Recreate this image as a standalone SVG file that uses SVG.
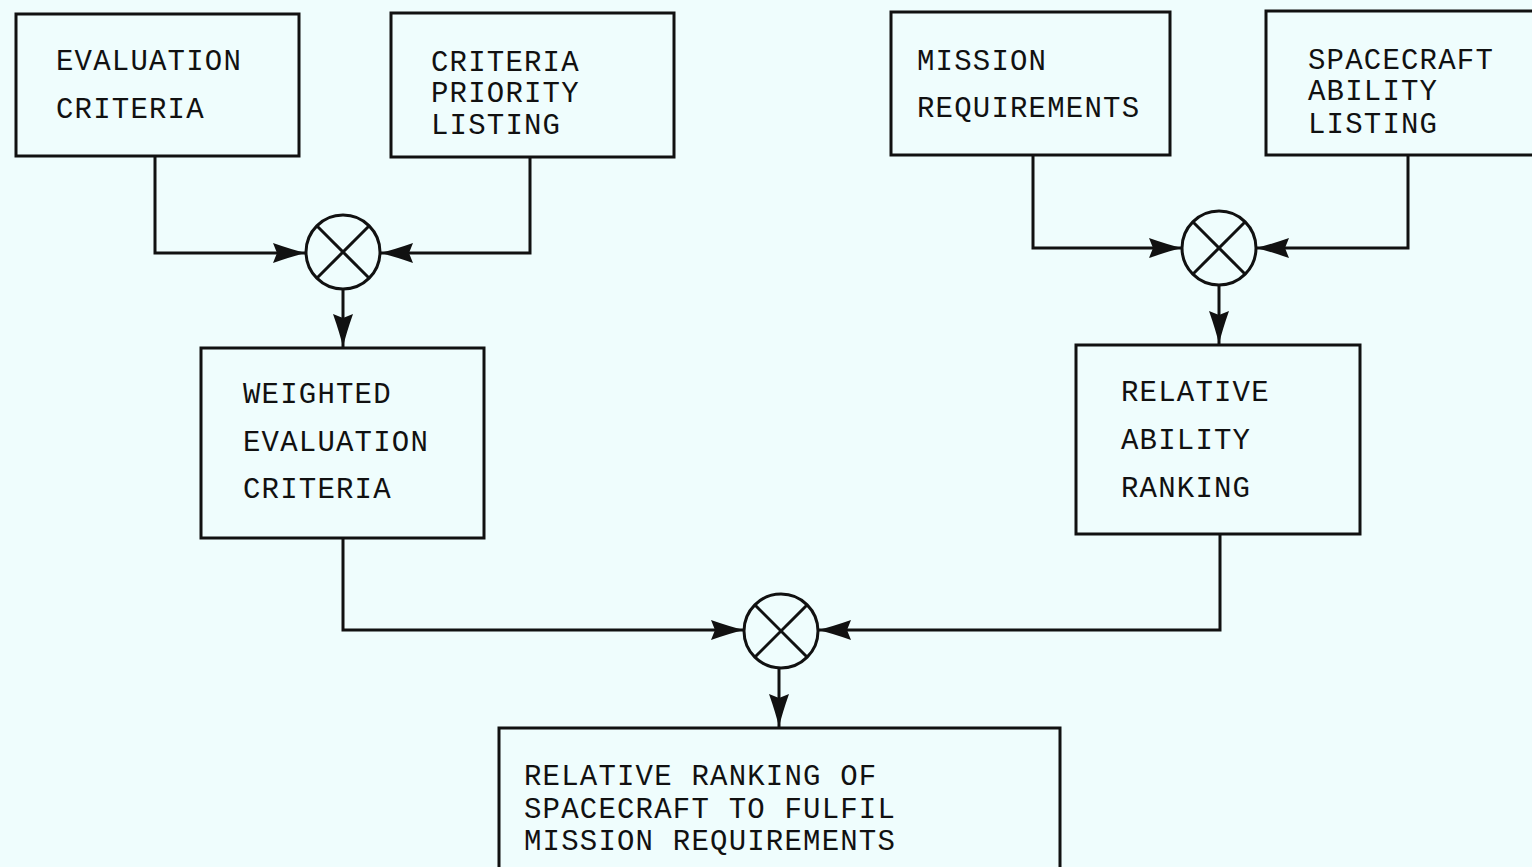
<svg xmlns="http://www.w3.org/2000/svg" width="1532" height="867" viewBox="0 0 1532 867">
<style>
.bg{fill:#effdfd}
.box{fill:none;stroke:#111;stroke-width:3}
.sum{fill:none;stroke:#111;stroke-width:3}
.x{stroke:#111;stroke-width:3}
.conn{fill:none;stroke:#111;stroke-width:3}
text{font-family:"Liberation Mono","DejaVu Sans Mono",monospace;font-size:29px;fill:#111;letter-spacing:1.2px}
</style>
<defs>
<marker id="arr" markerUnits="userSpaceOnUse" markerWidth="34" markerHeight="22" viewBox="0 0 34 22" refX="33" refY="11" orient="auto">
<path d="M0,1 Q20,8 33,11 Q20,14 0,21 L4,11 Z" fill="#111"/>
</marker>
</defs>
<rect class="bg" width="1532" height="867"/>
<g id="evaluation-criteria">
<rect class="box" x="16" y="14" width="283" height="142"/>
<text x="56" y="70">EVALUATION</text>
<text x="56" y="118">CRITERIA</text>
</g>
<g id="criteria-priority">
<rect class="box" x="391" y="13" width="283" height="144"/>
<text x="431" y="71">CRITERIA</text>
<text x="431" y="102">PRIORITY</text>
<text x="431" y="134">LISTING</text>
</g>
<g id="mission-requirements">
<rect class="box" x="891" y="12" width="279" height="143"/>
<text x="917" y="70">MISSION</text>
<text x="917" y="117">REQUIREMENTS</text>
</g>
<g id="spacecraft-ability">
<rect class="box" x="1266" y="11" width="270" height="144"/>
<text x="1308" y="69">SPACECRAFT</text>
<text x="1308" y="100">ABILITY</text>
<text x="1308" y="133">LISTING</text>
</g>
<g id="mult1">
<circle class="sum" cx="343" cy="252" r="37"/>
<line class="x" x1="317" y1="226" x2="369" y2="278"/>
<line class="x" x1="369" y1="226" x2="317" y2="278"/>
</g>
<g id="mult2">
<circle class="sum" cx="1219" cy="248" r="37"/>
<line class="x" x1="1193" y1="222" x2="1245" y2="274"/>
<line class="x" x1="1245" y1="222" x2="1193" y2="274"/>
</g>
<g id="weighted-criteria">
<rect class="box" x="201" y="348" width="283" height="190"/>
<text x="243" y="403">WEIGHTED</text>
<text x="243" y="451">EVALUATION</text>
<text x="243" y="498">CRITERIA</text>
</g>
<g id="relative-ability">
<rect class="box" x="1076" y="345" width="284" height="189"/>
<text x="1121" y="401">RELATIVE</text>
<text x="1121" y="449">ABILITY</text>
<text x="1121" y="497">RANKING</text>
</g>
<g id="mult3">
<circle class="sum" cx="781" cy="631" r="37"/>
<line class="x" x1="755" y1="605" x2="807" y2="657"/>
<line class="x" x1="807" y1="605" x2="755" y2="657"/>
</g>
<g id="relative-ranking">
<rect class="box" x="499" y="728" width="561" height="150"/>
<text x="524" y="785">RELATIVE RANKING OF</text>
<text x="524" y="818">SPACECRAFT TO FULFIL</text>
<text x="524" y="850">MISSION REQUIREMENTS</text>
</g>
<g id="connectors">
<path class="conn" d="M155,156 V253 H306" marker-end="url(#arr)"/>
<path class="conn" d="M530,157 V253 H380" marker-end="url(#arr)"/>
<path class="conn" d="M343,289 V347" marker-end="url(#arr)"/>
<path class="conn" d="M1033,155 V248 H1182" marker-end="url(#arr)"/>
<path class="conn" d="M1408,155 V248 H1256" marker-end="url(#arr)"/>
<path class="conn" d="M1219,285 V344" marker-end="url(#arr)"/>
<path class="conn" d="M343,538 V630 H744" marker-end="url(#arr)"/>
<path class="conn" d="M1220,534 V630 H818" marker-end="url(#arr)"/>
<path class="conn" d="M779,668 V727" marker-end="url(#arr)"/>
</g>
</svg>
